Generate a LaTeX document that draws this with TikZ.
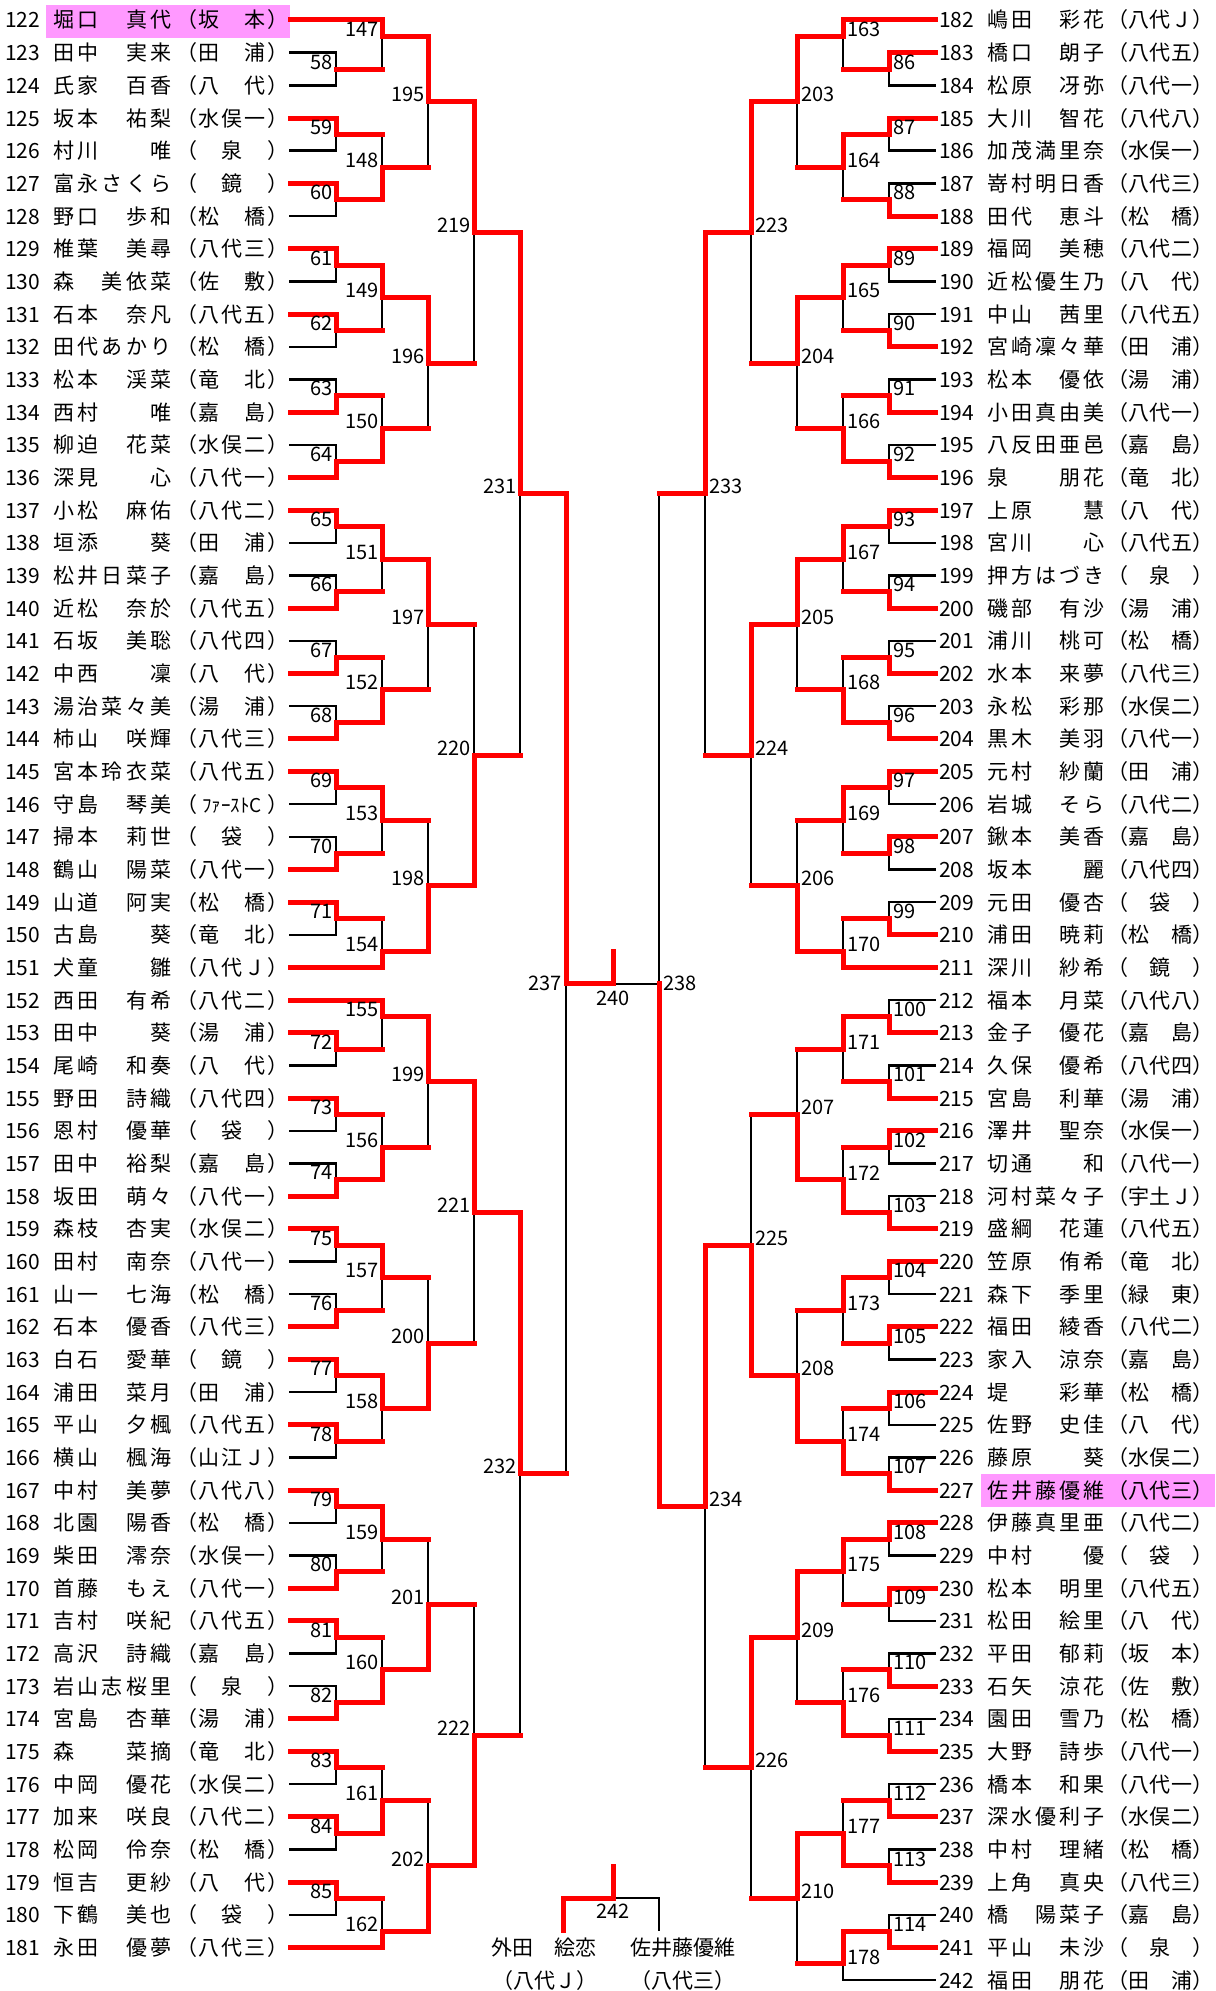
\documentclass[tikz,border=0pt]{standalone}
\usepackage{fontspec}
\setmainfont{Noto Sans CJK JP}
\pgfdeclarelayer{bg}
\pgfdeclarelayer{blk}
\pgfsetlayers{bg,blk,main}
\definecolor{wred}{RGB}{255,0,0}
\definecolor{hl}{RGB}{255,153,255}
\tikzset{
 win/.style={draw=wred,line width=5pt,line cap=rect},
 los/.style={draw=black,line width=2.4pt,line cap=rect},
 txt/.style={inner sep=0pt,font=\fontsize{21}{21}\selectfont,text height=18.5pt,text depth=2.5pt},
 lbl/.style={inner sep=0pt,font=\fontsize{20}{20}\selectfont},
}
\makeatletter
\def\sp@endmark{\sp@END}
\def\sp@loop#1{\def\sp@arg{#1}\ifx\sp@arg\sp@endmark\else\makebox[\sp@w]{#1}\expandafter\sp@loop\fi}
\newcommand\spaced[2]{\def\sp@w{#1}\sp@loop#2{\sp@END}}
\makeatother
\newcommand\FC{{\fontsize{19}{19}\selectfont ﾌｧｰｽﾄC}}
% entries
\newcommand\EL[4]{%
 \pgfmathsetmacro\yy{20+32.67*#1}%
 \node[txt,anchor=west] (n#2) at (5,\yy) {#2};
 \node[txt,anchor=west] (p#2) at (51.5,\yy) {\spaced{24.3pt}{#3}};
 \node[txt,anchor=west] (a#2) at (175,\yy) {\spaced{22.8pt}{#4}};
}
\newcommand\ER[4]{%
 \pgfmathsetmacro\yy{20+32.67*#1}%
 \node[txt,anchor=west] (n#2) at (939,\yy) {#2};
 \node[txt,anchor=west] (p#2) at (985.5,\yy) {\spaced{24pt}{#3}};
 \node[txt,anchor=west] (a#2) at (1107,\yy) {\spaced{21.3pt}{#4}};
}
% matches: k, rowT, kT, rowB, kB, rowO, winner(T/B/N), label
\newcommand\M[8]{%
 \pgfmathsetmacro\xv{\xbase+\xsgn*46*#1}%
 \pgfmathsetmacro\xt{\xbase+\xsgn*46*#3}%
 \pgfmathsetmacro\xb{\xbase+\xsgn*46*#5}%
 \pgfmathsetmacro\yt{20+32.67*#2}%
 \pgfmathsetmacro\yb{20+32.67*#4}%
 \pgfmathsetmacro\yo{20+32.67*#6}%
 \pgfmathsetmacro\xl{\xv+\ldx}%
 \pgfmathsetmacro\yl{\yo+\ldy}%
 \begin{pgfonlayer}{blk}\draw[los] (\xv,\yt) -- (\xv,\yb);\end{pgfonlayer}%
 \ifnum#3>0 \draw[win] (\xt,\yt) -- (\xv,\yt);%
 \else\if#7T\draw[win] (\xt,\yt) -- (\xv,\yt);%
 \else\begin{pgfonlayer}{blk}\draw[los] (\xt,\yt) -- (\xv,\yt);\end{pgfonlayer}\fi\fi
 \ifnum#5>0 \draw[win] (\xb,\yb) -- (\xv,\yb);%
 \else\if#7B\draw[win] (\xb,\yb) -- (\xv,\yb);%
 \else\begin{pgfonlayer}{blk}\draw[los] (\xb,\yb) -- (\xv,\yb);\end{pgfonlayer}\fi\fi
 \if#7T\draw[win] (\xv,\yt) -- (\xv,\yo);\fi
 \if#7B\draw[win] (\xv,\yb) -- (\xv,\yo);\fi
 \node[lbl,anchor=\lanc] (m#8) at (\xl,\yl) {#8};
}
\newcommand\ML{\def\xbase{290}\def\xsgn{1}\def\lanc{east}\def\ldx{(-3)}\def\ldy{(-7)}\M}
\newcommand\MR{\def\xbase{935}\def\xsgn{(-1)}\def\lanc{west}\def\ldx{4}\def\ldy{(-7)}\M}
\newcommand\MLc{\def\xbase{290}\def\xsgn{1}\def\lanc{east}\def\ldx{(-4)}\def\ldy{0}\M}
\newcommand\MRc{\def\xbase{935}\def\xsgn{(-1)}\def\lanc{west}\def\ldx{4}\def\ldy{0}\M}
\begin{document}
\begin{tikzpicture}[x=1pt,y=-1pt]
\useasboundingbox (0,0) rectangle (1215,1991);
\begin{pgfonlayer}{bg}
\fill[hl] (46,5) rectangle (290,38);
\fill[hl] (981,1474) rectangle (1215,1507);
\end{pgfonlayer}
% ---------- left entries
\EL{0}{122}{堀口　真代}{（坂　本）}
\EL{1}{123}{田中　実来}{（田　浦）}
\EL{2}{124}{氏家　百香}{（八　代）}
\EL{3}{125}{坂本　祐梨}{（水俣一）}
\EL{4}{126}{村川　　唯}{（　泉　）}
\EL{5}{127}{富永さくら}{（　鏡　）}
\EL{6}{128}{野口　歩和}{（松　橋）}
\EL{7}{129}{椎葉　美尋}{（八代三）}
\EL{8}{130}{森　美依菜}{（佐　敷）}
\EL{9}{131}{石本　奈凡}{（八代五）}
\EL{10}{132}{田代あかり}{（松　橋）}
\EL{11}{133}{松本　渓菜}{（竜　北）}
\EL{12}{134}{西村　　唯}{（嘉　島）}
\EL{13}{135}{柳迫　花菜}{（水俣二）}
\EL{14}{136}{深見　　心}{（八代一）}
\EL{15}{137}{小松　麻佑}{（八代二）}
\EL{16}{138}{垣添　　葵}{（田　浦）}
\EL{17}{139}{松井日菜子}{（嘉　島）}
\EL{18}{140}{近松　奈於}{（八代五）}
\EL{19}{141}{石坂　美聡}{（八代四）}
\EL{20}{142}{中西　　凜}{（八　代）}
\EL{21}{143}{湯治菜々美}{（湯　浦）}
\EL{22}{144}{柿山　咲輝}{（八代三）}
\EL{23}{145}{宮本玲衣菜}{（八代五）}
\EL{24}{146}{守島　琴美}{（{}\FC{}）}
\EL{25}{147}{掃本　莉世}{（　袋　）}
\EL{26}{148}{鶴山　陽菜}{（八代一）}
\EL{27}{149}{山道　阿実}{（松　橋）}
\EL{28}{150}{古島　　葵}{（竜　北）}
\EL{29}{151}{犬童　　雛}{（八代Ｊ）}
\EL{30}{152}{西田　有希}{（八代二）}
\EL{31}{153}{田中　　葵}{（湯　浦）}
\EL{32}{154}{尾崎　和奏}{（八　代）}
\EL{33}{155}{野田　詩織}{（八代四）}
\EL{34}{156}{恩村　優華}{（　袋　）}
\EL{35}{157}{田中　裕梨}{（嘉　島）}
\EL{36}{158}{坂田　萌々}{（八代一）}
\EL{37}{159}{森枝　杏実}{（水俣二）}
\EL{38}{160}{田村　南奈}{（八代一）}
\EL{39}{161}{山一　七海}{（松　橋）}
\EL{40}{162}{石本　優香}{（八代三）}
\EL{41}{163}{白石　愛華}{（　鏡　）}
\EL{42}{164}{浦田　菜月}{（田　浦）}
\EL{43}{165}{平山　夕楓}{（八代五）}
\EL{44}{166}{横山　楓海}{（山江Ｊ）}
\EL{45}{167}{中村　美夢}{（八代八）}
\EL{46}{168}{北園　陽香}{（松　橋）}
\EL{47}{169}{柴田　澪奈}{（水俣一）}
\EL{48}{170}{首藤　もえ}{（八代一）}
\EL{49}{171}{吉村　咲紀}{（八代五）}
\EL{50}{172}{高沢　詩織}{（嘉　島）}
\EL{51}{173}{岩山志桜里}{（　泉　）}
\EL{52}{174}{宮島　杏華}{（湯　浦）}
\EL{53}{175}{森　　菜摘}{（竜　北）}
\EL{54}{176}{中岡　優花}{（水俣二）}
\EL{55}{177}{加来　咲良}{（八代二）}
\EL{56}{178}{松岡　伶奈}{（松　橋）}
\EL{57}{179}{恒吉　更紗}{（八　代）}
\EL{58}{180}{下鶴　美也}{（　袋　）}
\EL{59}{181}{永田　優夢}{（八代三）}
% ---------- right entries
\ER{0}{182}{嶋田　彩花}{（八代Ｊ）}
\ER{1}{183}{橋口　朗子}{（八代五）}
\ER{2}{184}{松原　冴弥}{（八代一）}
\ER{3}{185}{大川　智花}{（八代八）}
\ER{4}{186}{加茂満里奈}{（水俣一）}
\ER{5}{187}{嵜村明日香}{（八代三）}
\ER{6}{188}{田代　恵斗}{（松　橋）}
\ER{7}{189}{福岡　美穂}{（八代二）}
\ER{8}{190}{近松優生乃}{（八　代）}
\ER{9}{191}{中山　茜里}{（八代五）}
\ER{10}{192}{宮崎凜々華}{（田　浦）}
\ER{11}{193}{松本　優依}{（湯　浦）}
\ER{12}{194}{小田真由美}{（八代一）}
\ER{13}{195}{八反田亜邑}{（嘉　島）}
\ER{14}{196}{泉　　朋花}{（竜　北）}
\ER{15}{197}{上原　　慧}{（八　代）}
\ER{16}{198}{宮川　　心}{（八代五）}
\ER{17}{199}{押方はづき}{（　泉　）}
\ER{18}{200}{磯部　有沙}{（湯　浦）}
\ER{19}{201}{浦川　桃可}{（松　橋）}
\ER{20}{202}{水本　来夢}{（八代三）}
\ER{21}{203}{永松　彩那}{（水俣二）}
\ER{22}{204}{黒木　美羽}{（八代一）}
\ER{23}{205}{元村　紗蘭}{（田　浦）}
\ER{24}{206}{岩城　そら}{（八代二）}
\ER{25}{207}{鍬本　美香}{（嘉　島）}
\ER{26}{208}{坂本　　麗}{（八代四）}
\ER{27}{209}{元田　優杏}{（　袋　）}
\ER{28}{210}{浦田　暁莉}{（松　橋）}
\ER{29}{211}{深川　紗希}{（　鏡　）}
\ER{30}{212}{福本　月菜}{（八代八）}
\ER{31}{213}{金子　優花}{（嘉　島）}
\ER{32}{214}{久保　優希}{（八代四）}
\ER{33}{215}{宮島　利華}{（湯　浦）}
\ER{34}{216}{澤井　聖奈}{（水俣一）}
\ER{35}{217}{切通　　和}{（八代一）}
\ER{36}{218}{河村菜々子}{（宇土Ｊ）}
\ER{37}{219}{盛綱　花蓮}{（八代五）}
\ER{38}{220}{笠原　侑希}{（竜　北）}
\ER{39}{221}{森下　季里}{（緑　東）}
\ER{40}{222}{福田　綾香}{（八代二）}
\ER{41}{223}{家入　涼奈}{（嘉　島）}
\ER{42}{224}{堤　　彩華}{（松　橋）}
\ER{43}{225}{佐野　史佳}{（八　代）}
\ER{44}{226}{藤原　　葵}{（水俣二）}
\ER{45}{227}{佐井藤優維}{（八代三）}
\ER{46}{228}{伊藤真里亜}{（八代二）}
\ER{47}{229}{中村　　優}{（　袋　）}
\ER{48}{230}{松本　明里}{（八代五）}
\ER{49}{231}{松田　絵里}{（八　代）}
\ER{50}{232}{平田　郁莉}{（坂　本）}
\ER{51}{233}{石矢　涼花}{（佐　敷）}
\ER{52}{234}{園田　雪乃}{（松　橋）}
\ER{53}{235}{大野　詩歩}{（八代一）}
\ER{54}{236}{橋本　和果}{（八代一）}
\ER{55}{237}{深水優利子}{（水俣二）}
\ER{56}{238}{中村　理緒}{（松　橋）}
\ER{57}{239}{上角　真央}{（八代三）}
\ER{58}{240}{橋　陽菜子}{（嘉　島）}
\ER{59}{241}{平山　未沙}{（　泉　）}
\ER{60}{242}{福田　朋花}{（田　浦）}
% ---------- left round 1
\ML{1}{1}{0}{2}{0}{1.5}{N}{58}
\ML{1}{3}{0}{4}{0}{3.5}{T}{59}
\ML{1}{5}{0}{6}{0}{5.5}{T}{60}
\ML{1}{7}{0}{8}{0}{7.5}{T}{61}
\ML{1}{9}{0}{10}{0}{9.5}{T}{62}
\ML{1}{11}{0}{12}{0}{11.5}{B}{63}
\ML{1}{13}{0}{14}{0}{13.5}{B}{64}
\ML{1}{15}{0}{16}{0}{15.5}{T}{65}
\ML{1}{17}{0}{18}{0}{17.5}{B}{66}
\ML{1}{19}{0}{20}{0}{19.5}{B}{67}
\ML{1}{21}{0}{22}{0}{21.5}{B}{68}
\ML{1}{23}{0}{24}{0}{23.5}{T}{69}
\ML{1}{25}{0}{26}{0}{25.5}{B}{70}
\ML{1}{27}{0}{28}{0}{27.5}{T}{71}
\ML{1}{31}{0}{32}{0}{31.5}{T}{72}
\ML{1}{33}{0}{34}{0}{33.5}{T}{73}
\ML{1}{35}{0}{36}{0}{35.5}{B}{74}
\ML{1}{37}{0}{38}{0}{37.5}{T}{75}
\ML{1}{39}{0}{40}{0}{39.5}{B}{76}
\ML{1}{41}{0}{42}{0}{41.5}{T}{77}
\ML{1}{43}{0}{44}{0}{43.5}{T}{78}
\ML{1}{45}{0}{46}{0}{45.5}{T}{79}
\ML{1}{47}{0}{48}{0}{47.5}{B}{80}
\ML{1}{49}{0}{50}{0}{49.5}{T}{81}
\ML{1}{51}{0}{52}{0}{51.5}{B}{82}
\ML{1}{53}{0}{54}{0}{53.5}{T}{83}
\ML{1}{55}{0}{56}{0}{55.5}{T}{84}
\ML{1}{57}{0}{58}{0}{57.5}{T}{85}
% left round 2
\ML{2}{0}{0}{1.5}{1}{0.5}{T}{147}
\ML{2}{3.5}{1}{5.5}{1}{4.5}{B}{148}
\ML{2}{7.5}{1}{9.5}{1}{8.5}{T}{149}
\ML{2}{11.5}{1}{13.5}{1}{12.5}{B}{150}
\ML{2}{15.5}{1}{17.5}{1}{16.5}{T}{151}
\ML{2}{19.5}{1}{21.5}{1}{20.5}{B}{152}
\ML{2}{23.5}{1}{25.5}{1}{24.5}{T}{153}
\ML{2}{27.5}{1}{29}{0}{28.5}{B}{154}
\ML{2}{30}{0}{31.5}{1}{30.5}{T}{155}
\ML{2}{33.5}{1}{35.5}{1}{34.5}{B}{156}
\ML{2}{37.5}{1}{39.5}{1}{38.5}{T}{157}
\ML{2}{41.5}{1}{43.5}{1}{42.5}{T}{158}
\ML{2}{45.5}{1}{47.5}{1}{46.5}{T}{159}
\ML{2}{49.5}{1}{51.5}{1}{50.5}{B}{160}
\ML{2}{53.5}{1}{55.5}{1}{54.5}{B}{161}
\ML{2}{57.5}{1}{59}{0}{58.5}{B}{162}
% left round 3
\ML{3}{0.5}{2}{4.5}{2}{2.5}{T}{195}
\ML{3}{8.5}{2}{12.5}{2}{10.5}{T}{196}
\ML{3}{16.5}{2}{20.5}{2}{18.5}{T}{197}
\ML{3}{24.5}{2}{28.5}{2}{26.5}{B}{198}
\ML{3}{30.5}{2}{34.5}{2}{32.5}{T}{199}
\ML{3}{38.5}{2}{42.5}{2}{40.5}{B}{200}
\ML{3}{46.5}{2}{50.5}{2}{48.5}{B}{201}
\ML{3}{54.5}{2}{58.5}{2}{56.5}{B}{202}
% left round 4
\ML{4}{2.5}{3}{10.5}{3}{6.5}{T}{219}
\ML{4}{18.5}{3}{26.5}{3}{22.5}{B}{220}
\ML{4}{32.5}{3}{40.5}{3}{36.5}{T}{221}
\ML{4}{48.5}{3}{56.5}{3}{52.5}{B}{222}
% left round 5
\ML{5}{6.5}{4}{22.5}{4}{14.5}{T}{231}
\ML{5}{36.5}{4}{52.5}{4}{44.5}{T}{232}
\MLc{6}{14.5}{5}{44.5}{5}{29.5}{T}{237}
% ---------- right round 1
\MR{1}{1}{0}{2}{0}{1.5}{T}{86}
\MR{1}{3}{0}{4}{0}{3.5}{T}{87}
\MR{1}{5}{0}{6}{0}{5.5}{B}{88}
\MR{1}{7}{0}{8}{0}{7.5}{T}{89}
\MR{1}{9}{0}{10}{0}{9.5}{B}{90}
\MR{1}{11}{0}{12}{0}{11.5}{B}{91}
\MR{1}{13}{0}{14}{0}{13.5}{B}{92}
\MR{1}{15}{0}{16}{0}{15.5}{T}{93}
\MR{1}{17}{0}{18}{0}{17.5}{B}{94}
\MR{1}{19}{0}{20}{0}{19.5}{B}{95}
\MR{1}{21}{0}{22}{0}{21.5}{B}{96}
\MR{1}{23}{0}{24}{0}{23.5}{T}{97}
\MR{1}{25}{0}{26}{0}{25.5}{T}{98}
\MR{1}{27}{0}{28}{0}{27.5}{B}{99}
\MR{1}{30}{0}{31}{0}{30.5}{B}{100}
\MR{1}{32}{0}{33}{0}{32.5}{B}{101}
\MR{1}{34}{0}{35}{0}{34.5}{T}{102}
\MR{1}{36}{0}{37}{0}{36.5}{B}{103}
\MR{1}{38}{0}{39}{0}{38.5}{T}{104}
\MR{1}{40}{0}{41}{0}{40.5}{T}{105}
\MR{1}{42}{0}{43}{0}{42.5}{T}{106}
\MR{1}{44}{0}{45}{0}{44.5}{B}{107}
\MR{1}{46}{0}{47}{0}{46.5}{T}{108}
\MR{1}{48}{0}{49}{0}{48.5}{T}{109}
\MR{1}{50}{0}{51}{0}{50.5}{B}{110}
\MR{1}{52}{0}{53}{0}{52.5}{B}{111}
\MR{1}{54}{0}{55}{0}{54.5}{B}{112}
\MR{1}{56}{0}{57}{0}{56.5}{B}{113}
\MR{1}{58}{0}{59}{0}{58.5}{B}{114}
% right round 2
\MR{2}{0}{0}{1.5}{1}{0.5}{T}{163}
\MR{2}{3.5}{1}{5.5}{1}{4.5}{T}{164}
\MR{2}{7.5}{1}{9.5}{1}{8.5}{T}{165}
\MR{2}{11.5}{1}{13.5}{1}{12.5}{B}{166}
\MR{2}{15.5}{1}{17.5}{1}{16.5}{T}{167}
\MR{2}{19.5}{1}{21.5}{1}{20.5}{B}{168}
\MR{2}{23.5}{1}{25.5}{1}{24.5}{T}{169}
\MR{2}{27.5}{1}{29}{0}{28.5}{B}{170}
\MR{2}{30.5}{1}{32.5}{1}{31.5}{T}{171}
\MR{2}{34.5}{1}{36.5}{1}{35.5}{B}{172}
\MR{2}{38.5}{1}{40.5}{1}{39.5}{T}{173}
\MR{2}{42.5}{1}{44.5}{1}{43.5}{B}{174}
\MR{2}{46.5}{1}{48.5}{1}{47.5}{T}{175}
\MR{2}{50.5}{1}{52.5}{1}{51.5}{B}{176}
\MR{2}{54.5}{1}{56.5}{1}{55.5}{B}{177}
\MR{2}{58.5}{1}{60}{0}{59.5}{T}{178}
% right round 3
\MR{3}{0.5}{2}{4.5}{2}{2.5}{T}{203}
\MR{3}{8.5}{2}{12.5}{2}{10.5}{T}{204}
\MR{3}{16.5}{2}{20.5}{2}{18.5}{T}{205}
\MR{3}{24.5}{2}{28.5}{2}{26.5}{B}{206}
\MR{3}{31.5}{2}{35.5}{2}{33.5}{B}{207}
\MR{3}{39.5}{2}{43.5}{2}{41.5}{B}{208}
\MR{3}{47.5}{2}{51.5}{2}{49.5}{T}{209}
\MR{3}{55.5}{2}{59.5}{2}{57.5}{T}{210}
% right round 4
\MR{4}{2.5}{3}{10.5}{3}{6.5}{T}{223}
\MR{4}{18.5}{3}{26.5}{3}{22.5}{T}{224}
\MR{4}{33.5}{3}{41.5}{3}{37.5}{B}{225}
\MR{4}{49.5}{3}{57.5}{3}{53.5}{T}{226}
% right round 5
\MR{5}{6.5}{4}{22.5}{4}{14.5}{T}{233}
\MR{5}{37.5}{4}{53.5}{4}{45.5}{T}{234}
\MRc{6}{14.5}{5}{45.5}{5}{29.5}{B}{238}
% ---------- 240
\pgfmathsetmacro\yF{20+32.67*29.5}
\coordinate (c240a) at (566,\yF);
\coordinate (c240m) at (613,\yF);
\coordinate (c240b) at (659,\yF);
\coordinate (c240t) at (613,951);
\draw[win] (c240a) -- (c240m) -- (c240t);
\begin{pgfonlayer}{blk}\draw[los] (c240m) -- (c240b);\end{pgfonlayer}
\node[lbl] (m240) at (613,998) {240};
% ---------- 242
\node[txt] (fA) at (544,1947) {外田　絵恋};
\node[txt] (fAc) at (545,1980) {（八代Ｊ）};
\node[txt] (fB) at (683,1947) {佐井藤優維};
\node[txt] (fBc) at (683,1980) {（八代三）};
\coordinate (c242t) at (613,1866);
\coordinate (c242m) at (613,1898);
\coordinate (c242a) at (563,1898);
\coordinate (c242b) at (659,1898);
\draw[win] (c242t) -- (c242m);
\draw[win] (c242m) -- (c242a) -- (c242a |- 0,1930);
\begin{pgfonlayer}{blk}\draw[los] (c242m) -- (c242b) -- (c242b |- 0,1930);\end{pgfonlayer}
\node[lbl] (m242) at (613,1911) {242};
\end{tikzpicture}
\end{document}
